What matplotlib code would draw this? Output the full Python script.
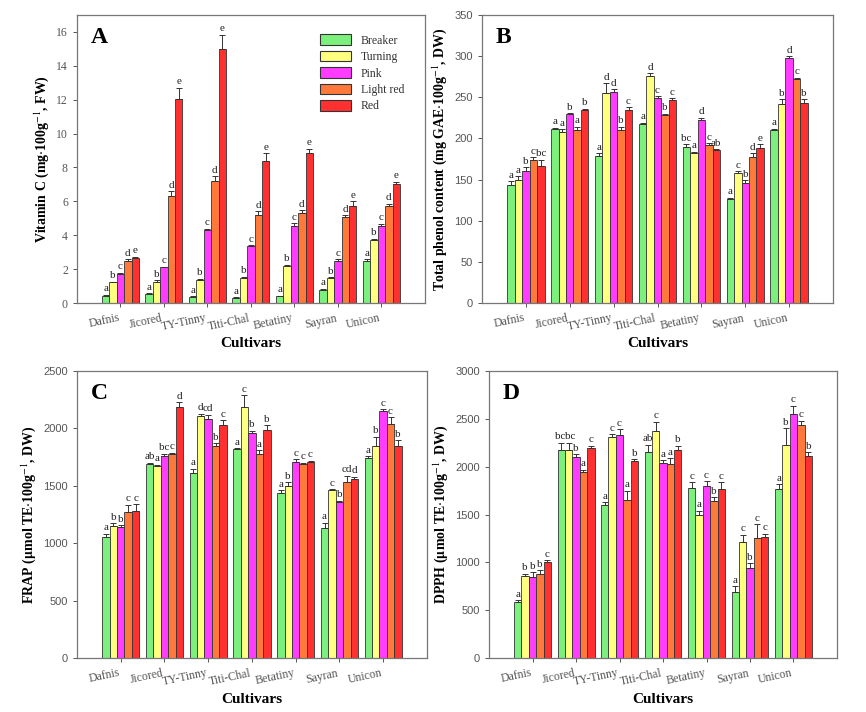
import numpy as np
import matplotlib
matplotlib.use("Agg")
import matplotlib.pyplot as plt
from matplotlib.patches import Patch

plt.rcParams["font.family"] = ["Liberation Serif", "DejaVu Serif"]
plt.rcParams["mathtext.fontset"] = "stix"

CULTIVARS = ["Dafnis", "Jicored", "TY-Tinny", "Titi-Chal", "Betatiny", "Sayran", "Unicon"]
STAGES = ["Breaker", "Turning", "Pink", "Light red", "Red"]
COLORS = ["#7cf07c", "#ffff80", "#ff3cff", "#ff7a3a", "#ff3030"]

# rows = cultivars, columns = stages
VITC = [[0.43, 1.22, 1.69, 2.50, 2.64],
        [0.53, 1.26, 2.10, 6.30, 12.06],
        [0.35, 1.38, 4.33, 7.23, 15.00],
        [0.30, 1.50, 3.37, 5.22, 8.39],
        [0.39, 2.20, 4.57, 5.32, 8.87],
        [0.79, 1.46, 2.50, 5.08, 5.75],
        [2.50, 3.70, 4.53, 5.75, 7.05]]
VITC_ERR = [[0.05, 0.05, 0.10, 0.10, 0.10],
            [0.05, 0.08, 0.05, 0.30, 0.65],
            [0.05, 0.05, 0.05, 0.25, 0.85],
            [0.03, 0.05, 0.05, 0.20, 0.45],
            [0.05, 0.05, 0.15, 0.15, 0.25],
            [0.05, 0.05, 0.10, 0.10, 0.25],
            [0.10, 0.10, 0.15, 0.10, 0.10]]
VITC_LET = [["a", "b", "c", "d", "e"]] * 7

TPC = [[144, 149, 160, 174, 167],
       [211, 208, 230, 210, 234],
       [179, 255, 256, 210, 234],
       [217, 276, 249, 229, 247],
       [190, 182, 222, 192, 186],
       [126, 158, 146, 178, 189],
       [210, 242, 298, 272, 243]]
TPC_ERR = [[4, 5, 5, 3, 7],
           [2, 3, 1, 4, 2],
           [3, 12, 4, 4, 4],
           [2, 3, 2, 1, 2],
           [3, 2, 3, 2, 1],
           [2, 2, 3, 4, 4],
           [2, 6, 2, 2, 5]]
TPC_LET = [["a", "a", "b", "c", "bc"],
           ["a", "a", "b", "a", "b"],
           ["a", "d", "d", "b", "c"],
           ["a", "d", "c", "b", "c"],
           ["bc", "a", "d", "c", "ab"],
           ["a", "c", "b", "d", "e"],
           ["a", "b", "d", "c", "b"]]

FRAP = [[1052, 1153, 1138, 1275, 1280],
        [1690, 1670, 1760, 1780, 2190],
        [1610, 2110, 2080, 1850, 2030],
        [1820, 2190, 1960, 1780, 1990],
        [1440, 1500, 1710, 1690, 1710],
        [1130, 1460, 1360, 1530, 1560],
        [1740, 1850, 2150, 2040, 1850]]
FRAP_ERR = [[30, 20, 20, 60, 60],
            [10, 15, 20, 10, 40],
            [40, 20, 40, 20, 40],
            [10, 100, 20, 30, 40],
            [20, 30, 20, 10, 10],
            [50, 10, 10, 60, 20],
            [20, 80, 20, 60, 50]]
FRAP_LET = [["a", "b", "b", "c", "c"],
            ["ab", "a", "bc", "c", "d"],
            ["a", "d", "cd", "b", "c"],
            ["a", "c", "b", "a", "b"],
            ["a", "b", "c", "c", "c"],
            ["a", "c", "b", "cd", "d"],
            ["a", "b", "c", "c", "b"]]

DPPH = [[585, 860, 850, 880, 1005],
        [2180, 2170, 2100, 1950, 2200],
        [1600, 2310, 2330, 1650, 2060],
        [2150, 2370, 2040, 2030, 2180],
        [1780, 1500, 1800, 1640, 1770],
        [690, 1210, 940, 1250, 1270],
        [1770, 2230, 2550, 2440, 2110]]
DPPH_ERR = [[20, 20, 50, 40, 20],
            [70, 80, 30, 20, 20],
            [30, 30, 60, 100, 20],
            [80, 100, 30, 60, 40],
            [60, 40, 50, 40, 70],
            [60, 80, 50, 150, 30],
            [50, 170, 90, 40, 40]]
DPPH_LET = [["a", "b", "b", "b", "c"],
            ["bc", "bc", "b", "a", "c"],
            ["a", "c", "c", "a", "b"],
            ["ab", "c", "a", "a", "b"],
            ["c", "a", "c", "b", "c"],
            ["a", "c", "b", "c", "c"],
            ["a", "b", "c", "c", "b"]]

W = 0.17


def panel(ax, vals, errs, lets, ymax, ystep, ylabel, tag, serif_ticks=False):
    vals = np.asarray(vals, float)
    errs = np.asarray(errs, float)
    x = np.arange(len(CULTIVARS))
    gap = ymax * 0.005
    tops = vals + errs
    for j, st in enumerate(STAGES):
        xs = x + (j - 2) * W
        ax.bar(xs, vals[:, j], W, color=COLORS[j], edgecolor="#333333", lw=0.6, label=st)
        ax.errorbar(xs, vals[:, j], yerr=[np.zeros(len(x)), errs[:, j]], fmt="none",
                    ecolor="#333333", elinewidth=0.7, capsize=2.5, capthick=0.7)
        for i in range(len(x)):
            lab = lets[i][j]
            dx = 0.0
            # push apart two-letter labels sitting side by side at about the same height
            if len(lab) == 2:
                if j > 0 and len(lets[i][j - 1]) == 2 and abs(tops[i, j] - tops[i, j - 1]) < ymax * 0.04:
                    dx += 0.035
                if j < 4 and len(lets[i][j + 1]) == 2 and abs(tops[i, j] - tops[i, j + 1]) < ymax * 0.04:
                    dx -= 0.035
            ax.text(xs[i] + dx, tops[i, j] + gap, lab, ha="center",
                    va="bottom", fontsize=8, color="#222222")
    ax.set_xlim(-1, 7)
    ax.set_ylim(0, ymax)
    ax.set_yticks(np.arange(0, ymax + 1e-9, ystep))
    ax.set_xticks(x)
    ax.set_xticklabels(CULTIVARS, rotation=12, ha="right", fontsize=8.5, color="#333333")
    if serif_ticks:
        for t in ax.get_yticklabels():
            t.set_fontsize(8.5)
            t.set_color("#444444")
    else:
        for t in ax.get_yticklabels():
            t.set_family(["Liberation Sans", "DejaVu Sans"])
            t.set_fontsize(8)
            t.set_color("#444444")
    ax.tick_params(direction="out", length=3, width=0.7, colors="#555555")
    for s in ax.spines.values():
        s.set_color("#777777")
        s.set_linewidth(0.9)
    ax.set_ylabel(ylabel, fontsize=10, fontweight="bold")
    ax.set_xlabel("Cultivars", fontsize=11, fontweight="bold", labelpad=3)
    ax.text(0.04, 0.96, tag, transform=ax.transAxes, fontsize=17, fontweight="bold",
            va="top", ha="left")


fig = plt.figure(figsize=(8.66, 7.12), dpi=100)
axA = fig.add_axes([0.0889, 0.5744, 0.4018, 0.4045])
axB = fig.add_axes([0.5566, 0.5744, 0.4053, 0.4045])
axC = fig.add_axes([0.0889, 0.0758, 0.4040, 0.4030])
axD = fig.add_axes([0.5647, 0.0758, 0.4018, 0.4030])

panel(axA, VITC, VITC_ERR, VITC_LET, 17, 2,
      r"Vitamin C (mg$\cdot$100g$^{-1}$, FW)", "A", serif_ticks=True)
panel(axB, TPC, TPC_ERR, TPC_LET, 350, 50,
      r"Total phenol content (mg GAE$\cdot$100g$^{-1}$, DW)", "B")
panel(axC, FRAP, FRAP_ERR, FRAP_LET, 2500, 500,
      r"FRAP ($\mathbf{\mu}$mol TE$\cdot$100g$^{-1}$, DW)", "C")
panel(axD, DPPH, DPPH_ERR, DPPH_LET, 3000, 500,
      r"DPPH ($\mathbf{\mu}$mol TE$\cdot$100g$^{-1}$, DW)", "D")

handles = [Patch(facecolor=c, edgecolor="#333333", lw=0.8, label=s) for c, s in zip(COLORS, STAGES)]
axA.legend(handles=handles, loc="upper right", bbox_to_anchor=(0.97, 0.97), frameon=False,
           fontsize=8.5, handlelength=2.6, handleheight=1.0, labelspacing=0.35,
           labelcolor="#333333")

fig.savefig("out.png", dpi=100)
